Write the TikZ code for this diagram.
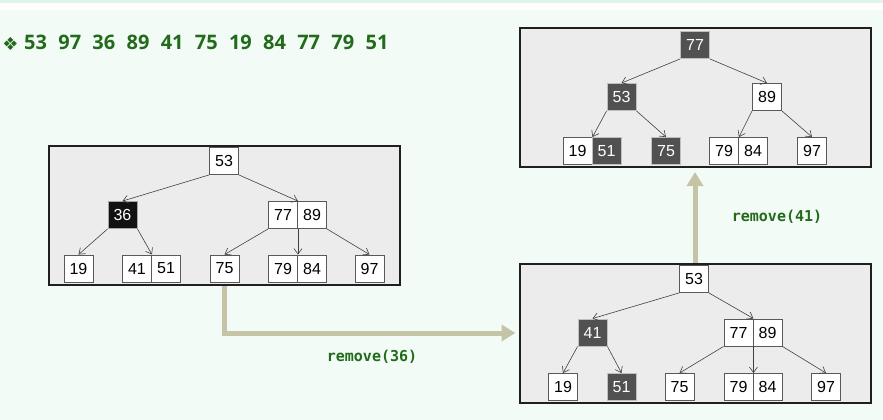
\documentclass[tikz,border=0pt]{standalone}
\usepackage{fontspec}
\setmainfont{Liberation Sans}
\newfontfamily\titlefont{Open Sans}
\newfontfamily\symfont{DejaVu Sans}
\newfontfamily\lblfont{DejaVu Sans Mono}
\usetikzlibrary{arrows.meta,backgrounds}
\definecolor{bgmint}{HTML}{F3FBF7}
\definecolor{topmint}{HTML}{DFF5EC}
\definecolor{khaki}{HTML}{C6C4A6}
\definecolor{dgreen}{HTML}{226B1A}
\definecolor{panelgray}{HTML}{ECECEC}
\definecolor{darknode}{HTML}{515151}
\begin{document}
\begin{tikzpicture}[x=1pt,y=-1pt,
  key/.style={draw=black!65,fill=white,line width=0.9pt,minimum width=29pt,minimum height=27pt,inner sep=0pt,font=\fontsize{16}{16}\selectfont},
  darkkey/.style={key,fill=darknode,draw=black!25,text=white},
  blackkey/.style={key,fill=black!93,draw=black!35,text=white},
  panel/.style={draw=black!88,line width=2pt,fill=panelgray,inner sep=0pt,minimum width=351pt,minimum height=139pt},
  edge/.style={draw=black!75,line width=0.6pt,-{Straight Barb[length=5.5pt,width=8pt]}},
  bigarrow/.style={draw=khaki,line width=5pt,-{Triangle[length=14pt,width=16pt]}},
  lbl/.style={text=dgreen,font=\lblfont\bfseries\fontsize{15}{15}\selectfont,inner sep=0pt}]
\useasboundingbox (0,0) rectangle (883,420);
\begin{scope}[on background layer]
  \fill[bgmint] (0,0) rectangle (883,420);
  \fill[topmint] (0,0) rectangle (883,3);
  \fill[white] (0,3) rectangle (883,10);
\end{scope}

% title
\node[text=dgreen,font=\symfont\fontsize{18}{18}\selectfont,inner sep=0pt] (bul) at (10.5,43.5) {❖};
\node[text=dgreen,font=\titlefont\bfseries\fontsize{20}{20}\selectfont,inner sep=0pt,anchor=base west] (title) at (24,50)
  {\spaceskip=11.3pt\relax 53 97 36 89 41 75 19 84 77 79 51};

% panels
\node[panel] (P1) at (224.5,215.5) {};
\node[panel] (P2) at (695,333) {};
\node[panel] (P3) at (695,97.5) {};

% left tree
\node[key] (a53) at (224,161) {53};
\node[blackkey] (a36) at (122.5,215) {36};
\node[key] (a77) at (283,215) {77};
\node[key] (a89) at (312,215) {89};
\node[key] (a19) at (78.5,268.5) {19};
\node[key] (a41) at (137,268.5) {41};
\node[key] (a51) at (166,268.5) {51};
\node[key] (a75) at (224.5,268.5) {75};
\node[key] (a79) at (283,268.5) {79};
\node[key] (a84) at (312,268.5) {84};
\node[key] (a97) at (369.5,268.5) {97};
\draw[edge] (a53.south west) -- (a36.north);
\draw[edge] (a53.south east) -- (a77.north east);
\draw[edge] (a36.south west) -- (a19.north);
\draw[edge] (a36.south east) -- (a41.north east);
\draw[edge] (a77.south west) -- (a75.north);
\draw[edge] (a77.south east) -- (a79.north east);
\draw[edge] (a89.south east) -- (a97.north);

% top-right tree
\node[darkkey] (c77) at (695,45) {77};
\node[darkkey] (c53) at (621.5,97) {53};
\node[key] (c89) at (767,97) {89};
\node[key] (c19) at (577.5,151) {19};
\node[darkkey] (c51) at (606.5,151) {51};
\node[darkkey] (c75) at (666,151) {75};
\node[key] (c79) at (724,151) {79};
\node[key] (c84) at (753,151) {84};
\node[key] (c97) at (812,151) {97};
\draw[edge] (c77.south west) -- (c53.north);
\draw[edge] (c77.south east) -- (c89.north);
\draw[edge] (c53.south west) -- (c19.north east);
\draw[edge] (c53.south east) -- (c75.north);
\draw[edge] (c89.south west) -- (c79.north east);
\draw[edge] (c89.south east) -- (c97.north);

% bottom-right tree
\node[key] (b53) at (694,279) {53};
\node[darkkey] (b41) at (592.5,332.5) {41};
\node[key] (b77) at (738.5,332.5) {77};
\node[key] (b89) at (767.5,332.5) {89};
\node[key] (b19) at (563,387) {19};
\node[darkkey] (b51) at (621.5,387) {51};
\node[key] (b75) at (679.5,387) {75};
\node[key] (b79) at (738.5,387) {79};
\node[key] (b84) at (767.5,387) {84};
\node[key] (b97) at (826,387) {97};
\draw[edge] (b53.south west) -- (b41.north);
\draw[edge] (b53.south east) -- (b77.north east);
\draw[edge] (b41.south west) -- (b19.north);
\draw[edge] (b41.south east) -- (b51.north);
\draw[edge] (b77.south west) -- (b75.north);
\draw[edge] (b77.south east) -- (b79.north east);
\draw[edge] (b89.south east) -- (b97.north);

% big arrows
\begin{scope}[on background layer]
  \draw[bigarrow,shorten >=3pt] (a75 |- P1.south) |- (P2.west);
  \draw[bigarrow,shorten >=4pt] (P2.north) -- (P3.south);
\end{scope}
\node[lbl] (l36) at (372,357) {remove(36)};
\node[lbl] (l41) at (777,217) {remove(41)};
\end{tikzpicture}
\end{document}
